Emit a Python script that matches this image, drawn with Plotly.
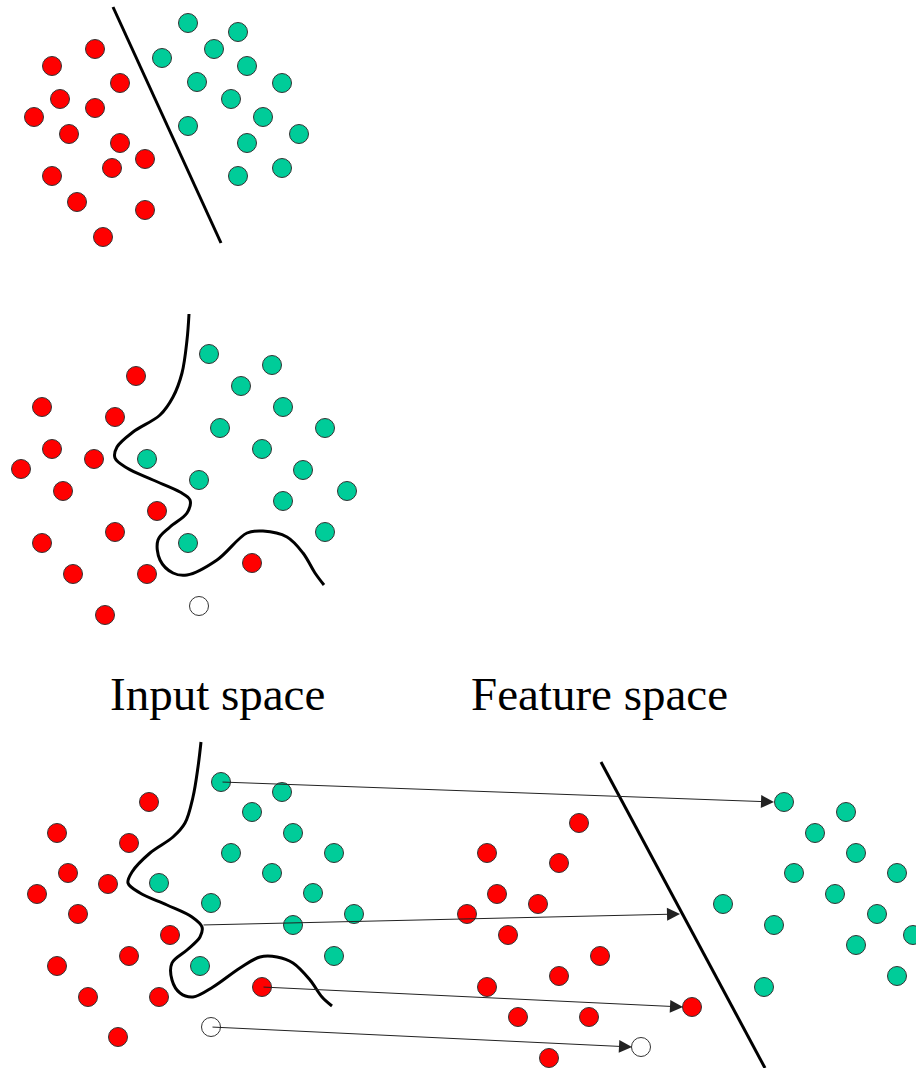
import plotly.graph_objects as go

W, H = 916, 1068

# ---- Panel 1: linear separation ----
p1_red_x = [95, 52, 120, 60, 95, 34, 69, 120, 145, 112, 52, 77, 145, 103]
p1_red_y = [49, 66, 83, 99, 108, 117, 134, 143, 159, 168, 176, 202, 210, 237]
p1_grn_x = [188, 238, 162, 214, 247, 197, 282, 231, 263, 188, 299, 247, 238, 282]
p1_grn_y = [23, 32, 58, 49, 66, 82, 83, 99, 117, 126, 134, 143, 176, 168]
p1_line_x = [113, 221]
p1_line_y = [7, 243]

# ---- Panel 2: non-linear boundary ----
p2_red_x = [136, 42, 115, 52, 94, 21, 63, 157, 115, 42, 73, 147, 252, 105]
p2_red_y = [376, 407, 417, 449, 459, 469, 491, 511, 532, 543, 574, 574, 563, 615]
p2_grn_x = [209, 272, 241, 283, 220, 325, 262, 147, 303, 199, 347, 283, 325, 188]
p2_grn_y = [354, 365, 386, 407, 428, 428, 449, 459, 470, 480, 491, 501, 532, 543]
p2_new_x = [199]
p2_new_y = [606]
p2_curve_x = [189, 187, 182, 173, 160, 133, 117, 115, 127, 153, 180, 190, 187, 170,
              158, 160, 173, 187, 217, 247, 263, 287, 303, 315, 324]
p2_curve_y = [314, 340, 373, 397, 415, 432, 447, 458, 468, 480, 492, 500, 513, 527,
              540, 560, 573, 575, 560, 533, 531, 537, 553, 573, 585]

# ---- Panel 3 left: input space ----
p3_red_x = [149, 57, 129, 68, 108, 37, 78, 170, 129, 57, 88, 159, 262, 118]
p3_red_y = [802, 833, 843, 873, 884, 894, 914, 935, 956, 966, 997, 997, 987, 1037]
p3_grn_x = [221, 282, 252, 293, 231, 334, 272, 159, 313, 211, 354, 293, 334, 200]
p3_grn_y = [782, 792, 812, 833, 853, 853, 873, 883, 893, 903, 914, 925, 956, 966]
p3_new_x = [211]
p3_new_y = [1027]
p3_curve_x = [201, 198, 193, 185, 173, 150, 132, 128, 140, 167, 192, 202, 200, 187,
              172, 172, 180, 193, 213, 240, 260, 277, 293, 310, 322, 332]
p3_curve_y = [742, 767, 797, 823, 837, 853, 872, 883, 893, 905, 917, 927, 937, 950,
              963, 980, 993, 997, 987, 968, 957, 957, 963, 980, 997, 1006]

# ---- Panel 3 right: feature space ----
fs_red_x = [579, 487, 559, 497, 538, 467, 508, 600, 559, 487, 518, 589, 692, 549]
fs_red_y = [823, 853, 863, 894, 904, 914, 935, 956, 976, 987, 1017, 1017, 1007, 1058]
fs_grn_x = [784, 846, 815, 856, 794, 897, 835, 723, 877, 774, 913, 856, 897, 764]
fs_grn_y = [802, 812, 833, 853, 873, 873, 894, 904, 914, 925, 935, 945, 976, 987]
fs_new_x = [641]
fs_new_y = [1047]
fs_line_x = [601, 765]
fs_line_y = [762, 1068]

# ---- Mapping arrows (tail -> head) ----
arrow_tail_x = [221, 202, 262, 211]
arrow_tail_y = [782, 925, 987, 1027]
arrow_head_x = [774, 680, 683, 632]
arrow_head_y = [802, 914, 1007, 1047]

# ---- Labels ----
label_text = ["Input space", "Feature space"]
label_x = [217, 599]
label_y = [694, 694]

RED = "#FF0000"
GREEN = "#00CC99"
EDGE = "#333333"
MSIZE = 19

fig = go.Figure()


def dots(xs, ys, color):
    fig.add_trace(go.Scatter(
        x=xs, y=ys, mode="markers", hoverinfo="skip",
        marker=dict(size=MSIZE, color=color, line=dict(color=EDGE, width=1))))


def curve(xs, ys, shape="linear"):
    fig.add_trace(go.Scatter(
        x=xs, y=ys, mode="lines", hoverinfo="skip",
        line=dict(color="black", width=3, shape=shape, smoothing=1.0)))


curve(p1_line_x, p1_line_y)
dots(p1_red_x, p1_red_y, RED)
dots(p1_grn_x, p1_grn_y, GREEN)

curve(p2_curve_x, p2_curve_y, "spline")
dots(p2_red_x, p2_red_y, RED)
dots(p2_grn_x, p2_grn_y, GREEN)
dots(p2_new_x, p2_new_y, "white")

for tx, ty, hx, hy in zip(arrow_tail_x, arrow_tail_y, arrow_head_x, arrow_head_y):
    fig.add_annotation(x=hx, y=hy, ax=tx, ay=ty, xref="x", yref="y",
                       axref="x", ayref="y", text="", showarrow=True,
                       arrowhead=2, arrowsize=2.6, arrowwidth=1,
                       arrowcolor="#222222", standoff=0, startstandoff=0)

curve(p3_curve_x, p3_curve_y, "spline")
dots(p3_red_x, p3_red_y, RED)
dots(p3_grn_x, p3_grn_y, GREEN)
dots(p3_new_x, p3_new_y, "white")

curve(fs_line_x, fs_line_y)
dots(fs_red_x, fs_red_y, RED)
dots(fs_grn_x, fs_grn_y, GREEN)
dots(fs_new_x, fs_new_y, "white")

for t, x, y in zip(label_text, label_x, label_y):
    fig.add_annotation(x=x, y=y, xref="x", yref="y", text=t, showarrow=False,
                       font=dict(family="Liberation Serif", size=47, color="black"),
                       xanchor="center", yanchor="middle")

fig.update_layout(
    width=W, height=H, margin=dict(l=0, r=0, t=0, b=0),
    paper_bgcolor="white", plot_bgcolor="white", showlegend=False,
    xaxis=dict(range=[0, W], visible=False, fixedrange=True),
    yaxis=dict(range=[H, 0], visible=False, fixedrange=True),
)

fig.write_html("out.html", config={"displayModeBar": False},
               post_script="document.body.style.margin='0';document.body.style.overflow='hidden';")
